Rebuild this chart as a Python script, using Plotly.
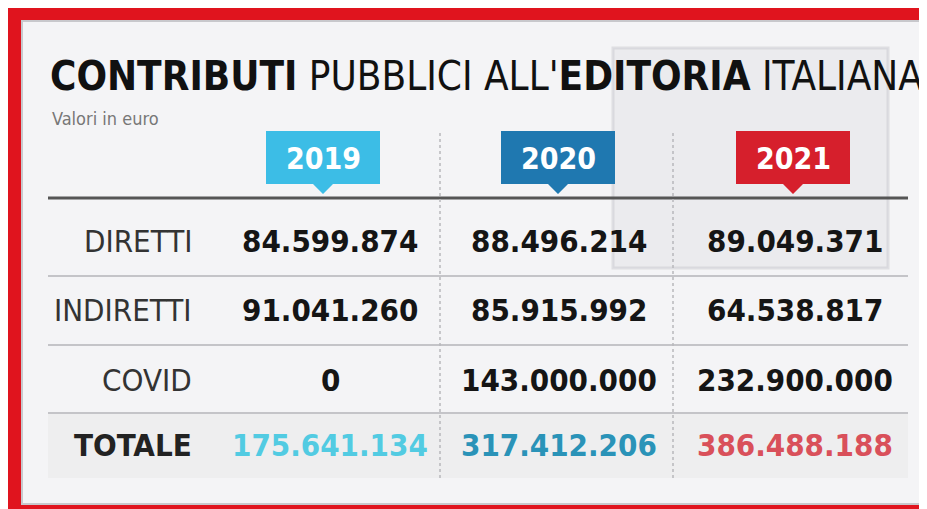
import plotly.graph_objects as go

years = ["2019", "2020", "2021"]
rows = ["DIRETTI", "INDIRETTI", "COVID", "TOTALE"]
diretti = ["84.599.874", "88.496.214", "89.049.371"]
indiretti = ["91.041.260", "85.915.992", "64.538.817"]
covid = ["0", "143.000.000", "232.900.000"]
totale = ["175.641.134", "317.412.206", "386.488.188"]
year_colors = ["#3cbde6", "#1f78b0", "#d61f2c"]
total_colors = ["#52cbe2", "#2a93b8", "#d9505a"]

FONT = "Liberation Sans Narrow, DejaVu Sans Condensed, Roboto, sans-serif"
W, H = 927, 509
col_x = [322, 551, 787]
row_y = [233, 302, 372, 437]

fig = go.Figure()
fig.add_trace(go.Scatter(x=[0, W], y=[0, H], mode="markers", marker=dict(opacity=0), hoverinfo="skip"))

shapes = [
    dict(type="rect", x0=14, y0=13, x1=913, y1=496, fillcolor="#f4f4f6", line=dict(color="#c8c8cc", width=2), layer="below"),
    dict(type="rect", x0=40, y0=405, x1=900, y1=470, fillcolor="#eeeeef", line_width=0, layer="below"),
    dict(type="line", x0=40, x1=900, y0=190, y1=190, line=dict(color="#555", width=3)),
]
for y in [268, 337, 405]:
    shapes.append(dict(type="line", x0=40, x1=900, y0=y, y1=y, line=dict(color="#c4c4c8", width=2)))
for x in [432, 665]:
    shapes.append(dict(type="line", x0=x, x1=x, y0=125, y1=470, line=dict(color="#b8b8bc", width=1.5, dash="dot")))

# decorative newspaper icon
shapes.append(dict(type="rect", x0=605, y0=40, x1=880, y1=260, fillcolor="rgba(215,215,220,0.3)",
                   line=dict(color="rgba(200,200,205,0.5)", width=3), layer="below"))

annotations = []
for i, yr in enumerate(years):
    cx = [315, 550, 785][i]
    shapes.append(dict(type="path",
                       path=f"M {cx-57},123 L {cx+57},123 L {cx+57},176 L {cx+10},176 L {cx},186 L {cx-10},176 L {cx-57},176 Z",
                       fillcolor=year_colors[i], line_width=0))
    annotations.append(dict(x=cx, y=150, text=f"<b>{yr}</b>", showarrow=False,
                            font=dict(family=FONT, size=30, color="white")))

table = [diretti, indiretti, covid, totale]
for r, label in enumerate(rows):
    bold = r == 3
    annotations.append(dict(x=186, y=row_y[r], xanchor="right", showarrow=False,
                            text=f"<b>{label}</b>" if bold else label,
                            font=dict(family=FONT, size=31, color="#222" if bold else "#333")))
    for c in range(3):
        annotations.append(dict(x=col_x[c], y=row_y[r], showarrow=False,
                                text=f"<b>{table[r][c]}</b>",
                                font=dict(family=FONT, size=31,
                                          color=total_colors[c] if bold else "#151515")))

annotations.append(dict(x=40, y=68, xanchor="left", showarrow=False,
                        text="<b>CONTRIBUTI</b> PUBBLICI ALL'<b>EDITORIA</b> ITALIANA",
                        font=dict(family=FONT, size=40, color="#111")))
annotations.append(dict(x=42, y=110, xanchor="left", showarrow=False, text="Valori in euro",
                        font=dict(family=FONT, size=18, color="#777")))

fig.update_layout(
    width=W, height=H, margin=dict(l=0, r=0, t=0, b=0),
    paper_bgcolor="#e0141e", plot_bgcolor="#e0141e", showlegend=False,
    xaxis=dict(range=[0, W], visible=False, fixedrange=True),
    yaxis=dict(range=[H, 0], visible=False, fixedrange=True),
    shapes=shapes, annotations=annotations,
)
fig.write_html("out.html")
